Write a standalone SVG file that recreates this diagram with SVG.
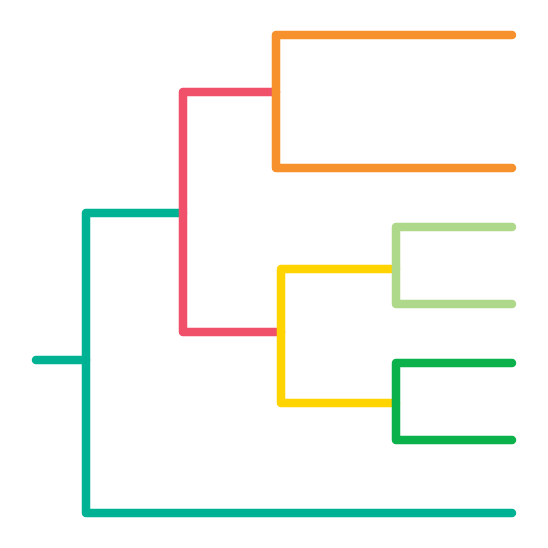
<svg xmlns="http://www.w3.org/2000/svg" width="548" height="548" viewBox="0 0 548 548">
<style>
.b{fill:none;stroke-width:8.5;stroke-linecap:round;stroke-linejoin:round}
</style>
<rect width="548" height="548" fill="#ffffff"/>
<g id="connectors">
<g id="root"><polyline class="b" stroke="#00B294" points="36,360 86,360"/>
<polyline class="b" stroke="#00B294" points="183,213 86,213 86,513 512,513"/></g>
<g id="clade-red"><polyline class="b" stroke="#F0506A" points="276,92 183,92 183,332 281,332"/></g>
<g id="clade-orange"><polyline class="b" stroke="#F7912E" points="512,35 276,35 276,168 512,168"/></g>
<g id="clade-yellow"><polyline class="b" stroke="#FFD400" points="396,269 281,269 281,403 396,403"/></g>
<g id="clade-lightgreen"><polyline class="b" stroke="#AED88A" points="512,227 396,227 396,304 512,304"/></g>
<g id="clade-green"><polyline class="b" stroke="#0BB14B" points="512,363 396,363 396,440 512,440"/></g>
</g>
</svg>
